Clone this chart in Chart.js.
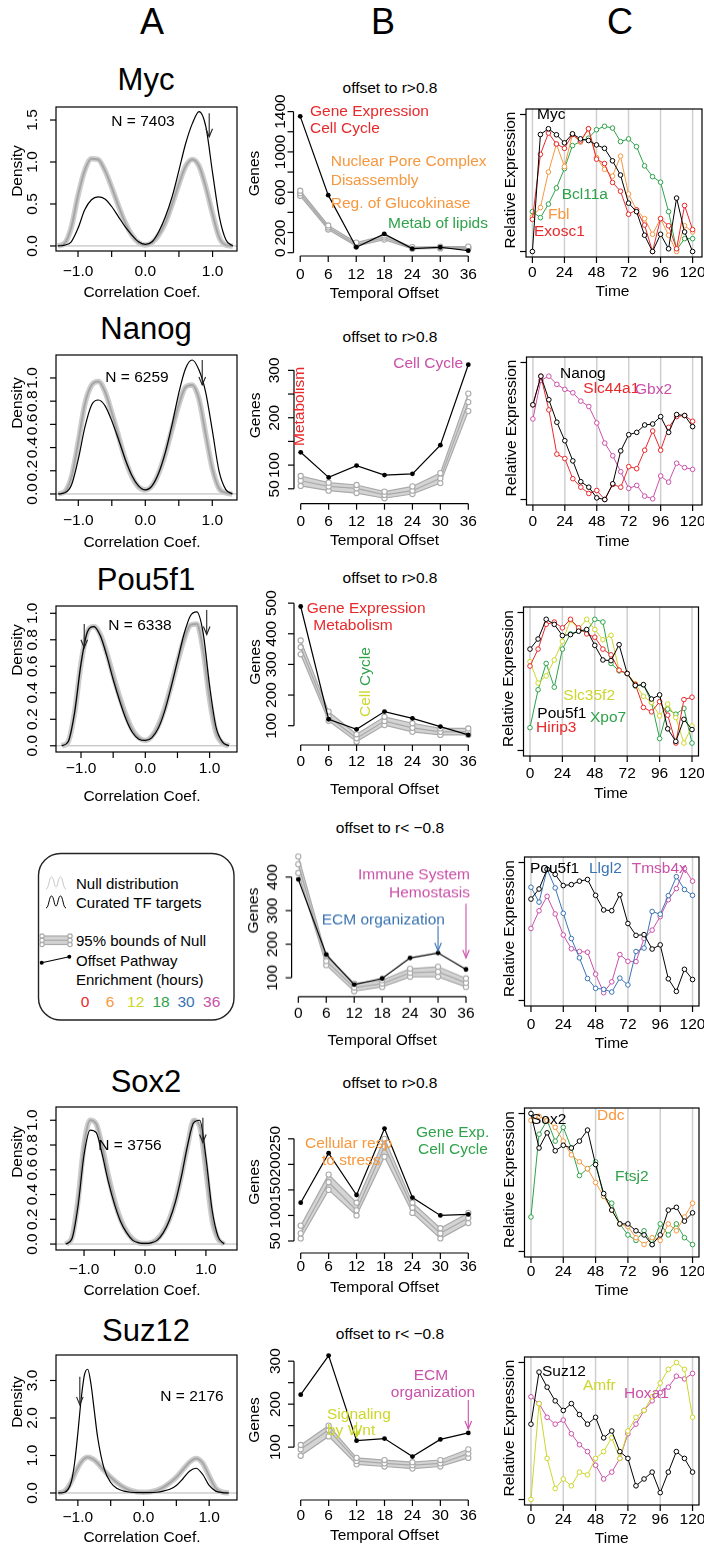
<!DOCTYPE html>
<html><head><meta charset="utf-8">
<script src="https://cdn.jsdelivr.net/npm/chart.js@4.4.1/dist/chart.umd.min.js"></script>
<style>
html,body{margin:0;padding:0;background:#fff;}
body{width:704px;height:1549px;position:relative;overflow:hidden;font-family:"Liberation Sans",Arial,Helvetica,sans-serif;}
canvas{position:absolute;}
</style></head><body>
<svg style="position:absolute;left:30px;top:845px" width="210" height="180" viewBox="30 845 210 180">
  <rect x="38.5" y="853.5" width="195.5" height="166.5" rx="22" ry="22" fill="none" stroke="#222" stroke-width="1.4"/>
  <path d="M46,889 C49,889 49,877 51.5,877 C54,877 54,887 56,887 C58,887 58,877 60.5,877 C63,877 63,889 66,889" fill="none" stroke="#c8c8c8" stroke-width="1"/>
  <path d="M46,908 C49,908 49,896 51.5,896 C54,896 54,906 56,906 C58,906 58,896 60.5,896 C63,896 63,908 66,908" fill="none" stroke="#000" stroke-width="1"/>
  <rect x="42" y="936" width="28" height="8.5" fill="#d2d2d2"/>
  <g stroke="#aaa" stroke-width="1.2" fill="#fff">
    <line x1="42" y1="936" x2="70" y2="936"/><line x1="42" y1="940.3" x2="70" y2="940.3"/><line x1="42" y1="944.5" x2="70" y2="944.5"/>
    <circle cx="42" cy="936" r="2.2"/><circle cx="42" cy="940.3" r="2.2"/><circle cx="42" cy="944.5" r="2.2"/>
    <circle cx="70" cy="936" r="2.2"/><circle cx="70" cy="940.3" r="2.2"/><circle cx="70" cy="944.5" r="2.2"/>
  </g>
  <line x1="41.7" y1="962.7" x2="69.3" y2="956.7" stroke="#000" stroke-width="1.1"/>
  <circle cx="41.7" cy="962.7" r="2" fill="#000"/><circle cx="69.3" cy="956.7" r="2" fill="#000"/>
</svg>
<script>
const FONT='"Liberation Sans", Arial, Helvetica, sans-serif';
const RED='#E8292B', ORANGE='#F7973E', YELLOW='#CDD62A', GREEN='#2FA24A', BLUE='#3A73B3', MAGENTA='#CA50A8';
const PI=Math.PI;

// ---------- Column A: density of correlation coefficients ----------
const densX=[-1.3,-1.2,-1.1,-1.0,-0.9,-0.8,-0.7,-0.6,-0.5,-0.4,-0.3,-0.2,-0.1,0,0.1,0.2,0.3,0.4,0.5,0.6,0.7,0.8,0.9,1.0,1.1,1.2,1.3];
const densTicks=[-1,-0.5,0,0.5,1];
const densTickLabels=['\u22121.0','','0.0','','1.0'];
const mycCurated=[0,0.01,0.05,0.21,0.43,0.55,0.585,0.56,0.47,0.35,0.23,0.13,0.05,0.02,0.05,0.17,0.35,0.59,0.9,1.22,1.46,1.6,1.42,0.87,0.35,0.07,0];
const mycNull=[0,0.03,0.22,0.6,0.9,1.04,1.03,0.9,0.7,0.48,0.28,0.13,0.04,0.01,0.04,0.13,0.28,0.5,0.74,0.95,1.03,0.95,0.7,0.38,0.1,0.01,0];
const nanogCurated=[0,0.01,0.08,0.3,0.58,0.77,0.81,0.76,0.63,0.47,0.3,0.16,0.07,0.035,0.07,0.18,0.36,0.6,0.87,1.08,1.155,1.07,0.88,0.55,0.2,0.04,0];
const nanogNull=[0,0.02,0.15,0.45,0.78,0.94,0.97,0.88,0.7,0.5,0.3,0.15,0.06,0.035,0.07,0.18,0.35,0.56,0.77,0.92,0.94,0.82,0.52,0.22,0.05,0.01,0];
const pouCurated=[0,0.03,0.25,0.62,0.86,0.9,0.83,0.68,0.5,0.34,0.2,0.1,0.05,0.04,0.06,0.13,0.26,0.44,0.64,0.84,0.98,1.01,0.85,0.45,0.14,0.03,0];
const pouNull=[0,0.03,0.25,0.62,0.86,0.9,0.84,0.7,0.53,0.37,0.23,0.12,0.06,0.04,0.07,0.15,0.28,0.45,0.63,0.8,0.91,0.92,0.72,0.35,0.1,0.02,0];
const sox2Curated=[0,0.04,0.3,0.72,0.92,0.9,0.72,0.5,0.32,0.18,0.09,0.03,0.01,0.005,0.01,0.03,0.09,0.19,0.34,0.55,0.8,0.98,1.0,0.7,0.28,0.06,0];
const sox2Null=[0,0.05,0.35,0.8,1.0,0.97,0.78,0.55,0.35,0.2,0.1,0.04,0.01,0.005,0.01,0.04,0.1,0.2,0.35,0.56,0.8,1.0,0.95,0.6,0.2,0.04,0];
const suzX=[-1.3,-1.2,-1.1,-1.05,-1.0,-0.95,-0.9,-0.85,-0.8,-0.75,-0.7,-0.6,-0.5,-0.4,-0.3,-0.2,-0.1,0,0.1,0.2,0.3,0.4,0.5,0.6,0.7,0.8,0.9,1.0,1.1,1.2,1.3];
const suzCurated=[0,0.02,0.3,0.8,1.6,2.5,3.15,3.3,2.9,2.2,1.5,0.65,0.28,0.12,0.05,0.02,0.01,0.01,0.01,0.02,0.05,0.1,0.2,0.38,0.58,0.66,0.5,0.2,0.05,0.01,0];
const suzNull=[0,0.05,0.3,0.5,0.68,0.82,0.92,0.95,0.93,0.88,0.8,0.6,0.42,0.27,0.15,0.07,0.03,0.02,0.03,0.07,0.15,0.27,0.42,0.62,0.82,0.92,0.8,0.45,0.13,0.02,0];

// ---------- Column B: genes per temporal offset ----------
const offsets=[0,6,12,18,24,30,36];
const mycEnrich=[1353,571,54,186,40,54,20];
const mycNullHi=[615,270,100,170,55,60,60], mycNullMid=[590,250,80,150,45,50,50], mycNullLo=[565,230,65,130,38,42,42];
const nanogEnrich=[127,74,99,79,81.5,142,312];
const nanogNullHi=[77,63,58,44,55,83,251], nanogNullMid=[67,55,51,37,46,72,233], nanogNullLo=[56,46,41,30,39,62,214];
const pouEnrich=[489,121,88,146,124,97,70];
const pouNullHi=[378,146,72,129,108,91,91], pouNullMid=[356,129,59,115,93,80,80], pouNullLo=[333,116,48,102,80,70,70];
const pouNegEnrich=[393,169,80,98,159,174,125];
const pouNegNullHi=[461,165,83,93,127,133,98], pouNegNullMid=[438,150,71,83,115,118,85], pouNegNullLo=[412,138,60,73,103,103,73];
const sox2Enrich=[125,222,140,270,135,100,102];
const sox2NullHi=[80,180,125,250,125,75,105], sox2NullMid=[65,165,110,235,115,65,95], sox2NullLo=[55,150,100,215,105,55,85];
const suzEnrich=[222,313,115,120,78,118,133];
const suzNullHi=[105,150,75,70,65,70,95], suzNullMid=[95,140,68,62,58,62,85], suzNullLo=[80,125,60,55,50,55,75];

// ---------- Column C: relative expression over time ----------
const timePoints=[0,6,12,18,24,30,36,42,48,54,60,66,72,78,84,90,96,102,108,114,120];
const timeTicks=[0,24,48,72,96,120];
const exMyc=[0,0.854,0.896,0.852,0.793,0.859,0.822,0.81,0.778,0.753,0.662,0.558,0.353,0.291,0.119,0,0.126,0.02,0.39,0.143,0];
const exExosc1=[0.235,0.709,0.864,0.785,0.753,0.854,0.807,0.896,0.674,0.642,0.504,0.44,0.272,0.304,0.193,0,0.24,0.188,0.02,0.336,0.16];
const exFbl=[0.254,0.321,0.58,0.783,0.62,0.854,0.798,0.896,0.686,0.6,0.55,0.696,0.42,0.304,0.24,0.126,0.24,0.119,0,0.188,0.143];
const exBcl11a=[0.291,0.247,0.346,0.464,0.605,0.773,0.802,0.827,0.889,0.914,0.901,0.802,0.822,0.765,0.625,0.546,0.506,0.291,0.012,0.094,0.094];
const exNanog=[0.691,0.9,0.728,0.564,0.429,0.282,0.13,0.09,0.012,0,0.115,0.355,0.473,0.49,0.544,0.551,0.605,0.49,0.62,0.613,0.532];
const exSlc44a1=[0.691,0.9,0.654,0.331,0.299,0.152,0.09,0.044,0.066,0,0.11,0.09,0.24,0.225,0.36,0.5,0.36,0.527,0.605,0.613,0.571];
const exGbx2=[0.588,0.87,0.9,0.84,0.804,0.779,0.718,0.679,0.559,0.412,0.319,0.203,0.081,0.103,0.025,0.005,0.172,0.127,0.265,0.233,0.22];
const exPou5f1=[0.735,0.808,0.951,0.914,0.833,0.84,0.865,0.877,0.762,0.656,0.651,0.767,0.558,0.472,0.477,0.373,0.403,0.157,0.066,0.226,0.152];
const exHirip3=[0.612,0.735,0.914,0.931,0.889,0.951,0.889,0.845,0.821,0.735,0.693,0.582,0.558,0.479,0.312,0.28,0.354,0.256,0.054,0.369,0.386];
const exSlc35f2=[0.644,0.489,0.541,0.656,0.791,0.943,0.882,0.951,0.877,0.803,0.835,0.582,0.558,0.484,0.393,0.349,0.251,0.337,0.238,0.054,0.177];
const exXpo7=[0.165,0.44,0.631,0.459,0.735,0.845,0.865,0.865,0.951,0.931,0.631,0.577,0.558,0.467,0.477,0.349,0.086,0.3,0.263,0.305,0.054];
const exLlgl2=[0.821,0.713,0.951,0.816,0.632,0.449,0.309,0.159,0.088,0.081,0.061,0.162,0.113,0.355,0.38,0.645,0.625,0.76,0.897,0.804,0.762];
const exTmsb4x=[0.522,0.65,0.755,0.627,0.475,0.375,0.355,0.35,0.191,0.056,0.135,0.333,0.284,0.282,0.449,0.51,0.608,0.73,0.811,0.956,0.865];
const exSox2=[1.0,0.75,0.86,0.73,0.77,0.75,0.8,0.88,0.63,0.42,0.3,0.2,0.2,0.15,0.12,0.05,0.12,0.3,0.32,0.22,0.28];
const exDdc=[0.95,0.98,0.95,0.9,0.8,0.7,0.65,0.6,0.5,0.4,0.3,0.2,0.18,0.1,0.05,0.1,0.08,0.2,0.15,0.25,0.35];
const exFtsj2=[0.25,0.85,0.95,0.8,0.9,0.75,0.55,0.6,0.65,0.4,0.35,0.2,0.12,0.08,0.15,0.05,0.2,0.12,0.2,0.1,0.05];
const exSuz12=[0.55,0.93,0.82,0.72,0.65,0.7,0.62,0.55,0.6,0.45,0.5,0.35,0.3,0.1,0.15,0.2,0.05,0.2,0.35,0.3,0.2];
const exAmfr=[0.0,0.7,0.3,0.08,0.15,0.1,0.2,0.18,0.3,0.35,0.45,0.3,0.5,0.6,0.65,0.75,0.85,0.95,1.0,0.95,0.6];
const exHoxa1=[0.75,0.7,0.6,0.55,0.58,0.48,0.4,0.35,0.25,0.15,0.2,0.3,0.48,0.55,0.65,0.72,0.78,0.82,0.9,0.88,0.92];

// ---------- helpers ----------
Chart.defaults.font.family=FONT;
const pts=(xs,ys)=>xs.map((x,i)=>({x:x,y:ys[i]}));
function line(ctx,x1,y1,x2,y2){ctx.beginPath();ctx.moveTo(x1,y1);ctx.lineTo(x2,y2);ctx.stroke();}
function txt(ctx,s,x,y,color,align,rot,size){
  ctx.save();ctx.fillStyle=color||'#000';ctx.font=(size||15.5)+'px '+FONT;
  ctx.textAlign=align||'left';ctx.textBaseline='middle';ctx.translate(x,y);
  if(rot)ctx.rotate(rot);ctx.fillText(s,0,0);ctx.restore();
}
function arrow(ctx,x,y1,y2,color){
  ctx.save();ctx.strokeStyle=color;ctx.lineWidth=1.1;
  line(ctx,x,y1,x,y2);
  ctx.beginPath();ctx.moveTo(x-3.3,y2-8);ctx.lineTo(x,y2);ctx.lineTo(x+3.3,y2-8);ctx.stroke();
  ctx.restore();
}
function htext(s,x,y,size,color,align){
  const d=document.createElement('div');d.textContent=s;
  d.style.cssText='position:absolute;left:'+x+'px;top:'+y+'px;font-size:'+size+'px;font-family:'+FONT+';color:'+(color||'#000')+
   ';white-space:nowrap;line-height:1;transform:translate('+(align==='center'?'-50%':(align==='right'?'-100%':'0'))+',-50%);';
  document.body.appendChild(d);
}
function makePanel(o){
  const cv=document.createElement('canvas');
  cv.width=o.cw;cv.height=o.ch;
  cv.style.cssText='left:'+o.cx+'px;top:'+o.cy+'px;width:'+o.cw+'px;height:'+o.ch+'px;';
  document.body.appendChild(cv);
  const [l,t,r,b]=o.box;
  const hook=fn=>function(chart){
    if(!fn)return;const ctx=chart.ctx;ctx.save();ctx.translate(-o.cx,-o.cy);
    const X=v=>chart.scales.x.getPixelForValue(v)+o.cx, Y=v=>chart.scales.y.getPixelForValue(v)+o.cy;
    fn(ctx,X,Y);ctx.restore();
  };
  return new Chart(cv,{type:'line',data:{datasets:o.datasets},options:{
    responsive:false,maintainAspectRatio:false,animation:false,devicePixelRatio:1,events:[],
    layout:{padding:{left:l-o.cx,top:t-o.cy,right:o.cx+o.cw-r,bottom:o.cy+o.ch-b}},
    plugins:{legend:{display:false},tooltip:{enabled:false},filler:{drawTime:'beforeDatasetsDraw'}},
    scales:{x:{type:'linear',display:false,min:o.xr[0],max:o.xr[1]},y:{type:'linear',display:false,min:o.yr[0],max:o.yr[1]}}
  },plugins:[{id:'deco',beforeDatasetsDraw:hook(o.before),afterDatasetsDraw:hook(o.after)}]});
}

// ---------- panel A ----------
function panelA(o){
  const [l,t,r,b]=o.box;
  const ds=[
    {data:pts(o.xs,o.cur),borderColor:'#000',borderWidth:1.2,pointRadius:0,cubicInterpolationMode:'monotone',order:0},
    {data:pts(o.xs,o.nul),borderColor:'#a6a6a6',borderWidth:2,pointRadius:0,cubicInterpolationMode:'monotone',order:1},
    {data:pts(o.xs,o.nul),borderColor:'#cdcdcd',borderWidth:5.5,pointRadius:0,cubicInterpolationMode:'monotone',order:2}
  ];
  makePanel({cx:0,cy:t-60,cw:245,ch:b-t+120,box:o.box,xr:o.xr,yr:o.yr,datasets:ds,
    before(ctx,X,Y){ctx.strokeStyle='#b5b5b5';ctx.lineWidth=1;line(ctx,l,Y(0),r,Y(0));},
    after(ctx,X,Y){
      ctx.strokeStyle='#000';ctx.lineWidth=1.2;ctx.strokeRect(l,t,r-l,b-t);
      densTicks.forEach((v,i)=>{line(ctx,X(v),b,X(v),b+6);if(densTickLabels[i])txt(ctx,densTickLabels[i],X(v),o.xlabY,'#000','center');});
      o.yt.forEach((v,i)=>{line(ctx,l,Y(v),l-6,Y(v));txt(ctx,o.yl[i],33,Y(v),'#000','center',-PI/2);});
      txt(ctx,'Correlation Coef.',142,o.xtitleY,'#000','center');
      txt(ctx,'Density',17.5,o.ytitleY,'#000','center',-PI/2);
      txt(ctx,o.nText,o.nPos[0],o.nPos[1],'#000','center');
      o.arrows.forEach(a=>arrow(ctx,X(a[0]),Y(a[1]),Y(a[2]),'#222'));
    }});
}

// ---------- panel B ----------
function panelB(o){
  const [l,t,r,b]=o.box;
  const band=(d,ord,extra)=>Object.assign({data:pts(offsets,d),borderColor:'#a9a9a9',borderWidth:1.2,pointRadius:2.6,
     pointBorderColor:'#a9a9a9',pointBackgroundColor:'#fff',pointBorderWidth:1.1,fill:false,order:ord},extra||{});
  const ds=[
    {data:pts(offsets,o.enr),borderColor:'#000',borderWidth:1.2,pointRadius:2.4,pointBackgroundColor:'#000',pointBorderColor:'#000',pointBorderWidth:0,order:0},
    band(o.hi,1,{fill:'+2',backgroundColor:'#d4d4d4'}),
    band(o.mid,2),
    band(o.lo,3)
  ];
  makePanel({cx:240,cy:t-40,cw:264,ch:b-t+100,box:o.box,xr:o.xr,yr:o.yr,datasets:ds,
    after(ctx,X,Y){
      ctx.strokeStyle='#000';ctx.lineWidth=1.2;
      line(ctx,l,Y(o.yt[0]),l,Y(o.yt[o.yt.length-1]));
      o.yt.forEach((v,i)=>{line(ctx,l,Y(v),l-6,Y(v));if(o.yl[i])txt(ctx,o.yl[i],o.ylabX,Y(v),'#000','center',-PI/2);});
      line(ctx,X(0),b,X(36),b);
      offsets.forEach(v=>{line(ctx,X(v),b,X(v),b+6);txt(ctx,String(v),X(v),o.xlabY,'#000','center');});
      txt(ctx,'Temporal Offset',(X(0)+X(36))/2,o.xtitleY,'#000','center');
      txt(ctx,'Genes',o.gPos[0],o.gPos[1],'#000','center',-PI/2);
      (o.notes||[]).forEach(n=>txt(ctx,n[0],n[1],n[2],n[3],n[4]||'left',n[5]||0));
      (o.arrows||[]).forEach(a=>arrow(ctx,X(a[0]),a[1],a[2],a[3]));
      if(o.extra)o.extra(ctx,X,Y);
    }});
}

// ---------- panel C ----------
function panelC(o){
  const [l,t,r,b]=o.box;
  const ds=o.series.map((s,i)=>({data:pts(timePoints,s[0]),borderColor:s[1],borderWidth:1,pointRadius:2.3,
     pointBorderColor:s[1],pointBackgroundColor:'#fff',pointBorderWidth:1,order:i}));
  makePanel({cx:480,cy:t-30,cw:224,ch:b-t+75,box:o.box,xr:[-4.8,124.8],yr:[-0.04,1.04],datasets:ds,
    before(ctx,X,Y){ctx.strokeStyle='#cfcfcf';ctx.lineWidth=1.5;timeTicks.forEach(v=>line(ctx,X(v),t,X(v),b));},
    after(ctx,X,Y){
      ctx.strokeStyle='#000';ctx.lineWidth=1.2;ctx.strokeRect(l,t,r-l,b-t);
      [0,1].forEach(v=>line(ctx,l,Y(v),l-6,Y(v)));
      timeTicks.forEach(v=>{line(ctx,X(v),b,X(v),b+6);txt(ctx,String(v),X(v),o.xlabY,'#000','center');});
      txt(ctx,'Time',(X(0)+X(120))/2,o.xtitleY,'#000','center');
      txt(ctx,'Relative Expression',l-15,(t+b)/2-3,'#000','center',-PI/2);
      o.labels.forEach(n=>txt(ctx,n[0],n[1],n[2],n[3],'left'));
    }});
}

// ---------- headings ----------
htext('A',152,22,36,'#000','center');htext('B',383,22,36,'#000','center');htext('C',620,22,36,'#000','center');
[['Myc',79],['Nanog',328],['Pou5f1',579],['Sox2',1081],['Suz12',1330]].forEach(g=>htext(g[0],146,g[1],31,'#000','center'));
[['offset to r>0.8',88],['offset to r>0.8',337],['offset to r>0.8',578],['offset to r< \u22120.8',828],['offset to r>0.8',1083],['offset to r< \u22120.8',1334]]
  .forEach(g=>htext(g[0],390,g[1],15.5,'#000','center'));

// legend texts
htext('Null distribution',76,883,15,'#000');
htext('Curated TF targets',76,902,15,'#000');
htext('95% bounds of Null',76,940,15,'#000');
htext('Offset Pathway',76,959.5,15,'#000');
htext('Enrichment (hours)',76,978.5,15,'#000');
[['0',85,RED],['6',110,ORANGE],['12',135.7,YELLOW],['18',161,GREEN],['30',186,BLUE],['36',211.7,MAGENTA]]
  .forEach(n=>htext(n[0],n[1],1002,15.5,n[2],'center'));

// ---------- column A panels ----------
const yt5=[0,0.2,0.4,0.6,0.8,1.0], yl5=['0.0','0.2','0.4','0.6','0.8','1.0'];
panelA({box:[56,107,237,251],xr:[-1.327,1.363],yr:[-0.06,1.655],xs:densX,cur:mycCurated,nul:mycNull,
  yt:[0,0.5,1,1.5],yl:['0.0','0.5','1.0','1.5'],xlabY:272,xtitleY:293,ytitleY:171,nText:'N = 7403',nPos:[143,122],arrows:[[0.95,1.58,1.30]]});
panelA({box:[56,355,237,500],xr:[-1.333,1.369],yr:[-0.052,1.198],xs:densX,cur:nanogCurated,nul:nanogNull,
  yt:yt5,yl:yl5,xlabY:520.7,xtitleY:543,ytitleY:403,nText:'N = 6259',nPos:[137,378],arrows:[[0.85,1.155,0.94]]});
panelA({box:[56,606,237,752],xr:[-1.389,1.426],yr:[-0.047,1.055],xs:densX,cur:pouCurated,nul:pouNull,
  yt:yt5,yl:yl5,xlabY:768.5,xtitleY:797,ytitleY:650,nText:'N = 6338',nPos:[140,626],arrows:[[-0.95,0.92,0.74],[0.955,1.025,0.84]]});
panelA({box:[56,1107,237,1250],xr:[-1.46,1.51],yr:[-0.048,1.107],xs:densX,cur:sox2Curated,nul:sox2Null,
  yt:yt5,yl:yl5,xlabY:1270,xtitleY:1291,ytitleY:1152,nText:'N = 3756',nPos:[130,1146],arrows:[[0.95,1.02,0.82]]});
panelA({box:[56,1355,237,1500],xr:[-1.333,1.424],yr:[-0.187,3.68],xs:suzX,cur:suzCurated,nul:suzNull,
  yt:[0,1,2,3],yl:['0.0','1.0','2.0','3.0'],xlabY:1518,xtitleY:1538,ytitleY:1402,nText:'N = 2176',nPos:[192,1397],arrows:[[-0.97,3.1,2.35]]});

// ---------- column B panels ----------
const bxr=[-1.44,37.44];
panelB({box:[293.5,110.5,475,255.5],xr:bxr,yr:[-33,1406],enr:mycEnrich,hi:mycNullHi,mid:mycNullMid,lo:mycNullLo,
  yt:[0,200,400,600,800,1000,1200,1400],yl:['0','200','','600','','1000','','1400'],ylabX:281,xlabY:274,xtitleY:293,gPos:[255,173],
  notes:[['Gene Expression',310,111,RED],['Cell Cycle',310,128,RED],['Nuclear Pore Complex',330.7,161,ORANGE],['Disassembly',330.7,180,ORANGE],
         ['Reg. of Glucokinase',330.7,203,ORANGE],['Metab of lipids',388,223,GREEN]]});
panelB({box:[294,358.6,475,503.3],xr:bxr,yr:[20,324],enr:nanogEnrich,hi:nanogNullHi,mid:nanogNullMid,lo:nanogNullLo,
  yt:[50,100,150,200,250,300],yl:['50','100','','200','','300'],ylabX:275,xlabY:521.7,xtitleY:540.7,gPos:[256,415],
  notes:[['Metabolism',300,406,RED,'center',-PI/2],['Cell Cycle',463,363.3,MAGENTA,'right']]});
panelB({box:[294,601,475,745],xr:bxr,yr:[37,507],enr:pouEnrich,hi:pouNullHi,mid:pouNullMid,lo:pouNullLo,
  yt:[100,200,300,400,500],yl:['100','200','300','400','500'],ylabX:272,xlabY:761.7,xtitleY:790,gPos:[256,662],
  notes:[['Gene Expression',306.7,608.3,RED],['Metabolism',313.3,625.7,RED]],
  extra(ctx){txt(ctx,'Cell',366,717,YELLOW,'left',-PI/2);ctx.font='15.5px '+FONT;const w=ctx.measureText('Cell ').width;txt(ctx,'Cycle',366,717-w,GREEN,'left',-PI/2);}});
panelB({box:[291.6,850.8,472.7,995.7],xr:bxr,yr:[46.5,477],enr:pouNegEnrich,hi:pouNegNullHi,mid:pouNegNullMid,lo:pouNegNullLo,
  yt:[100,200,300,400],yl:['100','200','300','400'],ylabX:273,xlabY:1012.7,xtitleY:1040,gPos:[253.3,910],
  notes:[['Immune System',470,875,MAGENTA,'right'],['Hemostasis',470,893,MAGENTA,'right'],['ECM organization',321.7,920,BLUE]],
  arrows:[[30,925,950,BLUE],[36,903,957,MAGENTA]]});
panelB({box:[294,1123,475,1253],xr:bxr,yr:[26.5,281],enr:sox2Enrich,hi:sox2NullHi,mid:sox2NullMid,lo:sox2NullLo,
  yt:[50,100,150,200,250],yl:['50','100','150','200','250'],ylabX:276,xlabY:1267,xtitleY:1288,gPos:[255,1182],
  notes:[['Cellular resp',305,1144,ORANGE],['to stress',322,1161,ORANGE],['Gene Exp.',416,1133,GREEN],['Cell Cycle',418,1150,GREEN]]});
panelB({box:[294,1350,475,1500],xr:bxr,yr:[-23,326],enr:suzEnrich,hi:suzNullHi,mid:suzNullMid,lo:suzNullLo,
  yt:[100,150,200,250,300],yl:['100','','200','','300'],ylabX:276,xlabY:1516,xtitleY:1536,gPos:[255,1420],
  notes:[['ECM',431,1376,MAGENTA,'center'],['organization',433,1393,MAGENTA,'center'],['Signaling',327,1415,YELLOW],['by Wnt',327,1431,YELLOW]],
  arrows:[[12,1422,1437,YELLOW],[36,1400,1429,MAGENTA]]});

// ---------- column C panels ----------
panelC({box:[526,109,702,257],xlabY:273,xtitleY:291.7,
  series:[[exMyc,'#000'],[exExosc1,RED],[exFbl,ORANGE],[exBcl11a,GREEN]],
  labels:[['Myc',537,115,'#000'],['Bcl11a',561.7,195,GREEN],['Fbl',548,215,ORANGE],['Exosc1',534,232,RED]]});
panelC({box:[526.5,357,702,505],xlabY:521.7,xtitleY:541.7,
  series:[[exNanog,'#000'],[exSlc44a1,RED],[exGbx2,MAGENTA]],
  labels:[['Nanog',560,373.3,'#000'],['Slc44a1',583.3,388.3,RED],['Gbx2',635,390,MAGENTA]]});
panelC({box:[523.5,607,698.5,756],xlabY:773.3,xtitleY:793.3,
  series:[[exPou5f1,'#000'],[exHirip3,RED],[exSlc35f2,YELLOW],[exXpo7,GREEN]],
  labels:[['Slc35f2',563.3,696,YELLOW],['Pou5f1',537.3,713.3,'#000'],['Hirip3',536,727.3,RED],['Xpo7',590,717.3,GREEN]]});
panelC({box:[524.5,857,699,1006],xlabY:1025,xtitleY:1044,
  series:[[exPou5f1,'#000'],[exLlgl2,BLUE],[exTmsb4x,MAGENTA]],
  labels:[['Pou5f1',530,868.3,'#000'],['Llgl2',589,868.3,BLUE],['Tmsb4x',631.7,868.3,MAGENTA]]});
panelC({box:[524.5,1108,699,1257],xlabY:1272,xtitleY:1291,
  series:[[exSox2,'#000'],[exDdc,ORANGE],[exFtsj2,GREEN]],
  labels:[['Sox2',531,1120,'#000'],['Ddc',597,1116,ORANGE],['Ftsj2',615,1177,GREEN]]});
panelC({box:[524.5,1357,699,1505],xlabY:1520,xtitleY:1539,
  series:[[exSuz12,'#000'],[exAmfr,YELLOW],[exHoxa1,MAGENTA]],
  labels:[['Suz12',542,1372,'#000'],['Amfr',583,1386,YELLOW],['Hoxa1',624,1394,MAGENTA]]});
</script>
</body></html>
